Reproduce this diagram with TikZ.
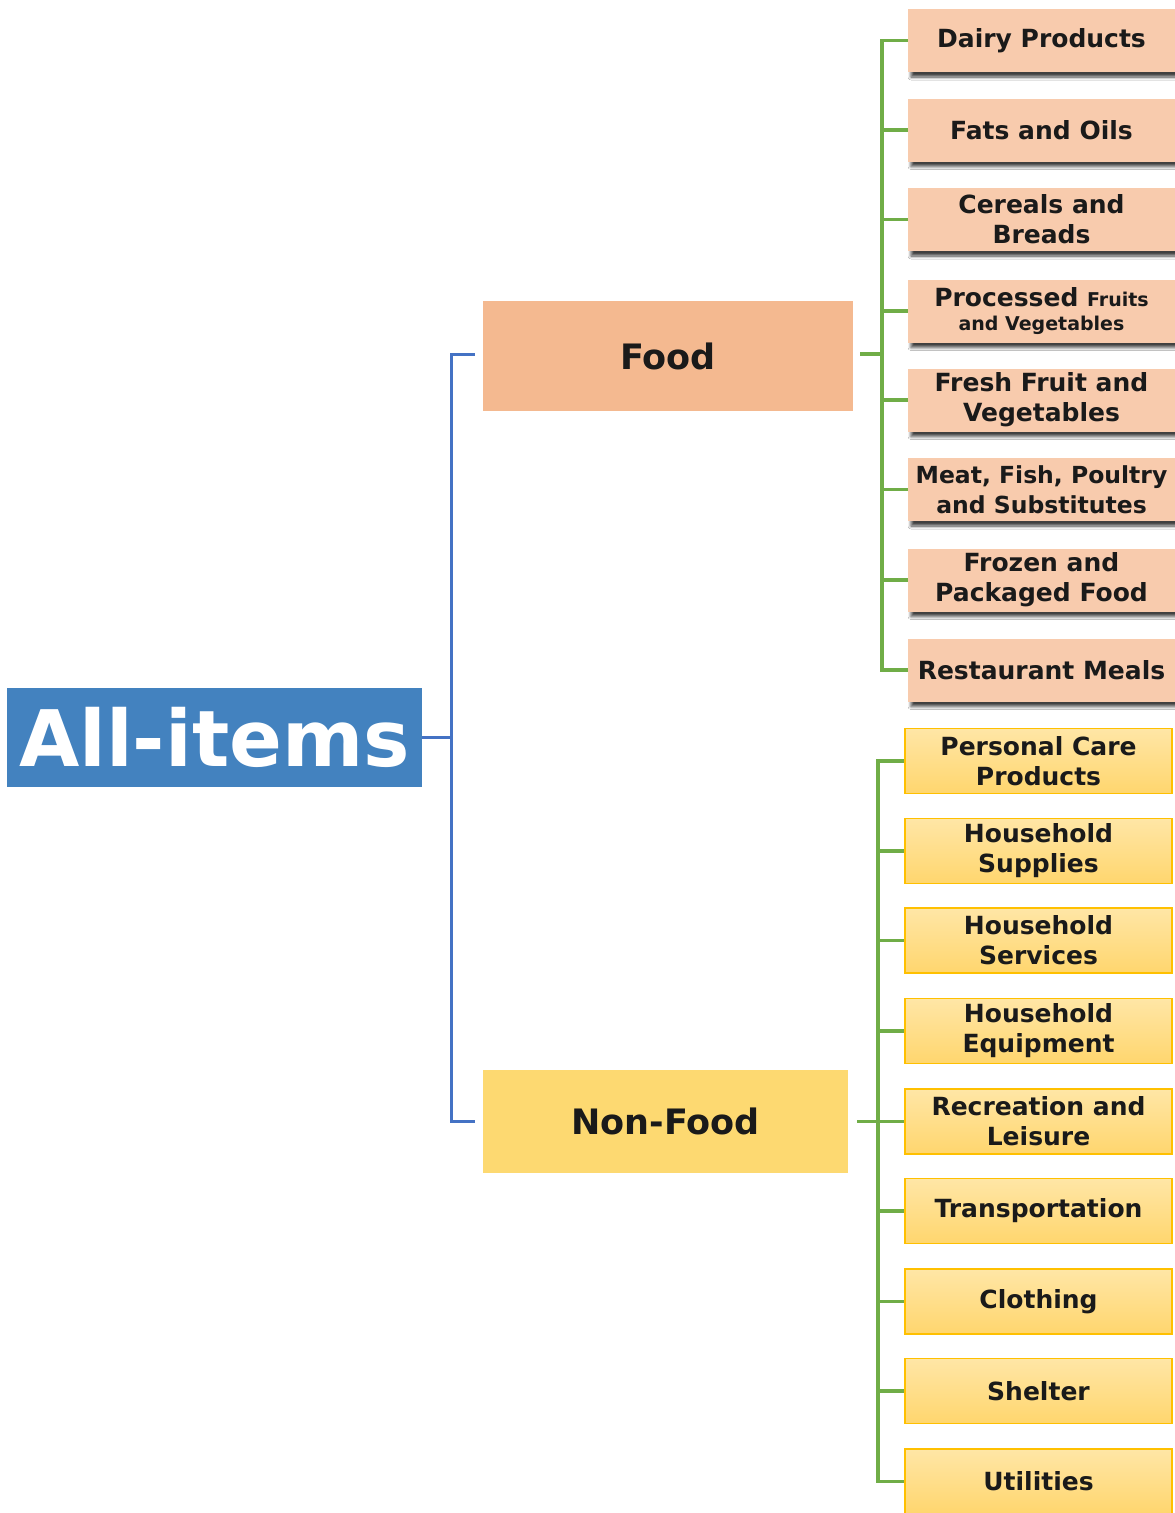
\documentclass[tikz,border=0pt]{standalone}
\usepackage{fontspec}
\setmainfont{DejaVu Sans}
\usetikzlibrary{shadows.blur}
\definecolor{allblue}{HTML}{4382BF}
\definecolor{lineblue}{HTML}{4472C4}
\definecolor{foodfill}{HTML}{F4B990}
\definecolor{nonfoodfill}{HTML}{FDD971}
\definecolor{peach}{HTML}{F8CBAD}
\definecolor{ytop}{HTML}{FFE6A6}
\definecolor{ybot}{HTML}{FFD66E}
\definecolor{yborder}{HTML}{FFC000}
\definecolor{lgreen}{HTML}{70AD47}
\definecolor{txt}{HTML}{1A1A1A}
\begin{document}
\begin{tikzpicture}[x=1pt,y=-1pt,
  catbox/.style={rectangle,inner sep=0pt,text=txt,font=\bfseries\fontsize{35}{40}\selectfont},
  fooditem/.style={rectangle,inner sep=0pt,minimum width=267pt,minimum height=63pt,fill=peach,
    text=txt,align=center,font=\bfseries\fontsize{25}{30}\selectfont,
    blur shadow={shadow xshift=3pt,shadow yshift=-5pt,shadow blur radius=3pt,shadow blur steps=6,shadow opacity=75}},
  nfitem/.style={rectangle,inner sep=0pt,minimum width=267pt,minimum height=65pt,
    draw=yborder,line width=1.5pt,top color=ytop,bottom color=ybot,
    text=txt,align=center,font=\bfseries\fontsize{25}{30}\selectfont},
  blueline/.style={draw=lineblue,line width=3pt},
  greenline/.style={draw=lgreen,line width=3.5pt}
]
\useasboundingbox (0,0) rectangle (1175,1513);
\fill[white] (0,0) rectangle (1175,1513);

% root
\node[rectangle,inner sep=0pt,minimum width=415pt,minimum height=99pt,fill=allblue,text=white,
  font=\bfseries\fontsize{78}{80}\selectfont] (all) at (214.5,737.5) {All-items};

% categories
\node[catbox,minimum width=370pt,minimum height=110pt,fill=foodfill] (food) at (668,356) {Food};
\node[catbox,minimum width=365pt,minimum height=103pt,fill=nonfoodfill] (nonfood) at (665.5,1121.5) {Non-Food};

% food items
\node[fooditem] (dairy) at (1041.5,40.5) {Dairy Products};
\node[fooditem] (fats) at (1041.5,130) {Fats and Oils};
\node[fooditem] (cereals) at (1041.5,219.5) {Cereals and\\Breads};
\node[fooditem] (proc) at (1041.5,311) {Processed {\fontsize{19}{22}\selectfont Fruits}\\[-6pt]{\fontsize{19}{22}\selectfont and Vegetables}};
\node[fooditem] (fresh) at (1041.5,400) {Fresh Fruit and\\Vegetables};
\node[fooditem] (meat) at (1041.5,489.5) {\fontsize{23.5}{28}\selectfont Meat, Fish, Poultry\\\fontsize{23.5}{28}\selectfont and Substitutes};
\node[fooditem] (frozen) at (1041.5,580) {Frozen and\\Packaged Food};
\node[fooditem] (rest) at (1041.5,670) {Restaurant Meals};

% non-food items
\node[nfitem] (pers) at (1038.5,761) {Personal Care\\Products};
\node[nfitem] (hsup) at (1038.5,851) {Household\\Supplies};
\node[nfitem] (hser) at (1038.5,940.5) {Household\\Services};
\node[nfitem] (hequ) at (1038.5,1031) {Household\\Equipment};
\node[nfitem] (recr) at (1038.5,1121.5) {Recreation and\\Leisure};
\node[nfitem] (trans) at (1038.5,1211) {Transportation};
\node[nfitem] (cloth) at (1038.5,1301.5) {Clothing};
\node[nfitem] (shel) at (1038.5,1391) {Shelter};
\node[nfitem] (util) at (1038.5,1481.5) {Utilities};

% blue connectors
\coordinate (bj) at (451,737.5);
\draw[blueline] (all.east) -- (bj);
\draw[blueline] ([xshift=-8pt,yshift=2pt]food.west) -| (bj) |- ([xshift=-8pt]nonfood.west);

% green connectors (food)
\coordinate (gf) at (882,354);
\draw[greenline] ([xshift=7pt,yshift=2pt]food.east) -- (gf);
\foreach \n in {dairy,fats,cereals,proc,fresh,meat,frozen,rest}
  \draw[greenline] (gf) |- (\n.west);

% green connectors (non-food)
\coordinate (gn) at (878,1121.5);
\draw[greenline] ([xshift=9pt]nonfood.east) -- (gn);
\foreach \n in {pers,hsup,hser,hequ,recr,trans,cloth,shel,util}
  \draw[greenline] (gn) |- (\n.west);
\end{tikzpicture}
\end{document}
